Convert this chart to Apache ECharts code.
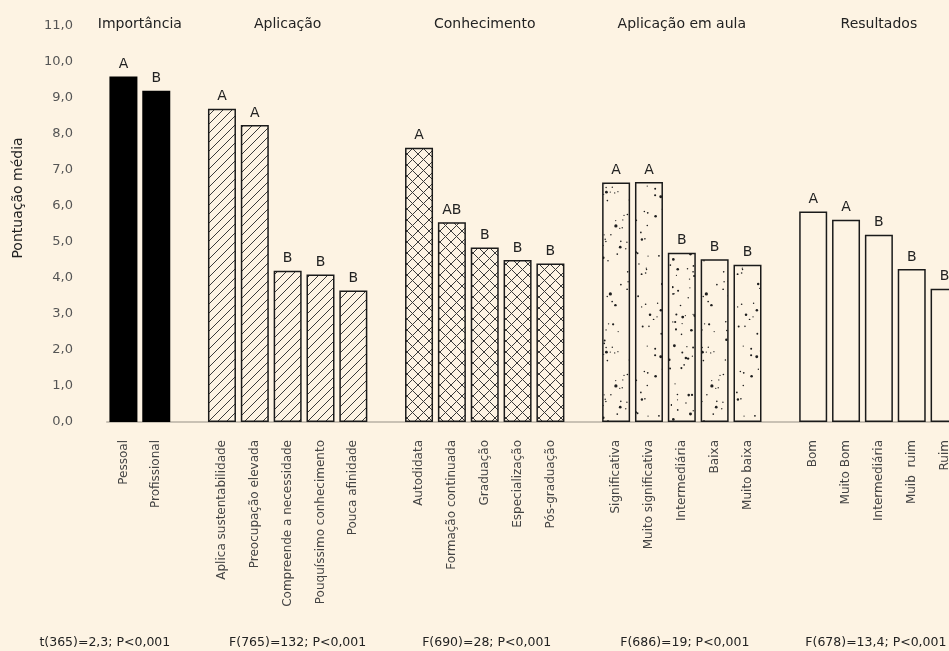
<!DOCTYPE html>
<html>
<head>
<meta charset="utf-8">
<script src="https://cdn.jsdelivr.net/npm/echarts@6/dist/echarts.min.js"></script>
<style>
html,body{margin:0;padding:0;background:#FDF3E3;}
#c{width:949px;height:651px;}
</style>
</head>
<body>
<div id="c"></div>
<script>
// ---- data ----
const groupTitles = ['Importância', 'Aplicação', 'Conhecimento', 'Aplicação em aula', 'Resultados'];
const groupStats = ['t(365)=2,3; P<0,001', 'F(765)=132; P<0,001', 'F(690)=28; P<0,001', 'F(686)=19; P<0,001', 'F(678)=13,4; P<0,001'];

const catsImportancia = ['Pessoal', 'Profissional'];
const valsImportancia = [9.6, 9.2];
const lettersImportancia = ['A', 'B'];

const catsAplicacao = ['Aplica sustentabilidade', 'Preocupação elevada', 'Compreende a necessidade', 'Pouquíssimo conhecimento', 'Pouca afinidade'];
const valsAplicacao = [8.7, 8.25, 4.2, 4.1, 3.65];
const lettersAplicacao = ['A', 'A', 'B', 'B', 'B'];

const catsConhecimento = ['Autodidata', 'Formação continuada', 'Graduação', 'Especialização', 'Pós-graduação'];
const valsConhecimento = [7.62, 5.55, 4.85, 4.5, 4.4];
const lettersConhecimento = ['A', 'AB', 'B', 'B', 'B'];

const catsAula = ['Significativa', 'Muito significativa', 'Intermediária', 'Baixa', 'Muito baixa'];
const valsAula = [6.65, 6.67, 4.7, 4.52, 4.37];
const lettersAula = ['A', 'A', 'B', 'B', 'B'];

const catsResultados = ['Bom', 'Muito Bom', 'Intermediária', 'Muib  ruim', 'Ruim'];
const valsResultados = [5.85, 5.62, 5.2, 4.25, 3.7];
const lettersResultados = ['A', 'A', 'B', 'B', 'B'];

const yTicks = [0, 1, 2, 3, 4, 5, 6, 7, 8, 9, 10, 11];

// ---- styling ----
const BG = '#FDF3E3';
const FONT = 'DejaVu Sans';
const statOffsets = [-35, 10, 2, 3, -3];

function tile(w, h, draw) {
  const c = document.createElement('canvas');
  c.width = w; c.height = h;
  const g = c.getContext('2d');
  g.fillStyle = BG; g.fillRect(0, 0, w, h);
  draw(g, w, h);
  return c;
}
const hatch = tile(9, 9, (g, w, h) => {
  g.strokeStyle = '#3a3a3a'; g.lineWidth = 1;
  g.beginPath();
  g.moveTo(-1, h + 1); g.lineTo(w + 1, -1);
  g.moveTo(-1 - w, h + 1); g.lineTo(1, -1);
  g.moveTo(w - 1, h + 1); g.lineTo(2 * w + 1, -1);
  g.stroke();
});
const cross = tile(11, 11, (g, w, h) => {
  g.strokeStyle = '#3a3a3a'; g.lineWidth = 1;
  g.beginPath();
  g.moveTo(0, h); g.lineTo(w, 0);
  g.moveTo(0, 0); g.lineTo(w, h);
  g.stroke();
});
const dots = tile(96, 160, (g, w, h) => {
  let a = 987654321;
  const rnd = () => {
    a |= 0; a = a + 0x6D2B79F5 | 0;
    let t = Math.imul(a ^ a >>> 15, 1 | a);
    t = t + Math.imul(t ^ t >>> 7, 61 | t) ^ t;
    return ((t ^ t >>> 14) >>> 0) / 4294967296;
  };
  g.fillStyle = '#1e1e1e';
  for (let i = 0; i < 150; i++) {
    const x = rnd() * w, y = rnd() * h, r = 0.6 + rnd() * rnd() * 1.1;
    g.beginPath(); g.arc(x, y, r, 0, Math.PI * 2); g.fill();
  }
});

const styles = [
  { color: '#000', borderWidth: 0 },
  { color: { image: hatch, repeat: 'repeat' }, borderColor: '#1a1a1a', borderWidth: 1.5 },
  { color: { image: cross, repeat: 'repeat' }, borderColor: '#1a1a1a', borderWidth: 1.5 },
  { color: { image: dots, repeat: 'repeat' }, borderColor: '#1a1a1a', borderWidth: 1.5 },
  { color: BG, borderColor: '#1a1a1a', borderWidth: 1.5 }
];

const groups = [
  [catsImportancia, valsImportancia, lettersImportancia],
  [catsAplicacao, valsAplicacao, lettersAplicacao],
  [catsConhecimento, valsConhecimento, lettersConhecimento],
  [catsAula, valsAula, lettersAula],
  [catsResultados, valsResultados, lettersResultados]
];

const categories = [], seriesData = [], groupRange = [];
groups.forEach((gr, gi) => {
  if (gi > 0) { categories.push(''); seriesData.push({ value: null }); }
  const start = categories.length;
  gr[0].forEach((c, i) => {
    categories.push(c);
    seriesData.push({ value: gr[1][i], letter: gr[2][i], itemStyle: styles[gi] });
  });
  groupRange.push([start, categories.length - 1]);
});

const chart = echarts.init(document.getElementById('c'), null, { renderer: 'canvas' });
chart.setOption({
  backgroundColor: BG,
  animation: false,
  textStyle: { fontFamily: FONT },
  grid: { left: 107, top: 26, width: 854, height: 396, outerBoundsMode: 'none' },
  xAxis: {
    type: 'category',
    data: categories,
    axisLine: { show: true, lineStyle: { color: '#c9c1b4', width: 2 } },
    axisTick: { show: false },
    axisLabel: { interval: 0, rotate: 90, margin: 18, color: '#444', fontSize: 12, fontFamily: FONT }
  },
  yAxis: {
    type: 'value', min: 0, max: 11, interval: 1,
    axisLine: { show: false }, axisTick: { show: false }, splitLine: { show: false },
    axisLabel: { margin: 34, color: '#555', fontSize: 13, fontFamily: FONT,
      formatter: v => yTicks.includes(v) ? v.toFixed(1).replace('.', ',') : '' }
  },
  series: [{
    type: 'bar',
    data: seriesData,
    barWidth: 28,
    label: {
      show: true, position: 'top', distance: 5, color: '#222', fontSize: 14, fontFamily: FONT,
      formatter: p => p.data.letter || ''
    }
  }]
});

const graphics = [];
groupRange.forEach((r, gi) => {
  const x0 = chart.convertToPixel({ xAxisIndex: 0 }, r[0]);
  const x1 = chart.convertToPixel({ xAxisIndex: 0 }, r[1]);
  const cx = (x0 + x1) / 2;
  graphics.push({ type: 'text', x: cx, y: 24, style: { text: groupTitles[gi], textAlign: 'center', textVerticalAlign: 'middle', fill: '#222', font: '14px "' + FONT + '"' } });
  graphics.push({ type: 'text', x: cx + statOffsets[gi], y: 643, style: { text: groupStats[gi], textAlign: 'center', textVerticalAlign: 'middle', fill: '#222', font: '12.5px "' + FONT + '"' } });
});
graphics.push({ type: 'text', x: 18, y: 198, rotation: Math.PI / 2, style: { text: 'Pontuação média', textAlign: 'center', textVerticalAlign: 'middle', fill: '#222', font: '14px "' + FONT + '"' } });
chart.setOption({ graphic: graphics });
</script>
</body>
</html>
